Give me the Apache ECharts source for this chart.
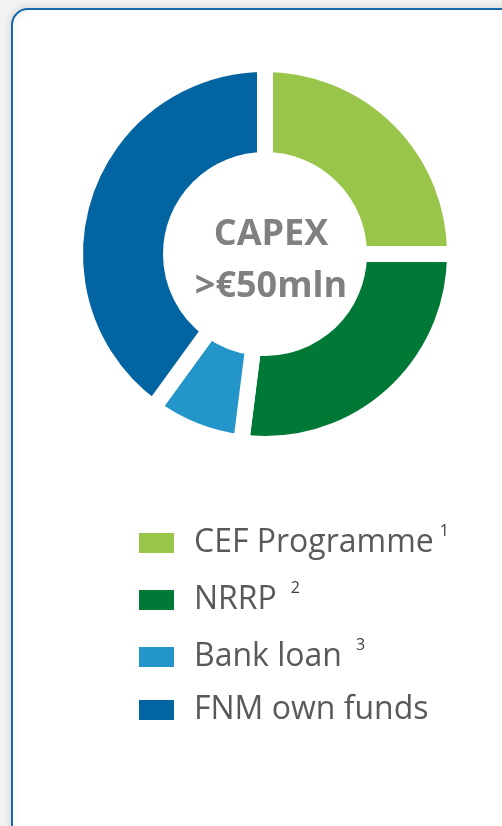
<!DOCTYPE html>
<html>
<head>
<meta charset="utf-8">
<script src="https://cdn.jsdelivr.net/npm/echarts@6/dist/echarts.min.js"></script>
<style>
  html, body { margin: 0; padding: 0; background: #f2f2f2; }
  #main { width: 502px; height: 826px; }
</style>
</head>
<body>
<div id="main"></div>
<script>
var names = ['CEF Programme', 'NRRP', 'Bank loan', 'FNM own funds'];
var shares = [25, 27, 8, 40];
var notes = ['1', '2', '3', ''];
var colors = ['#99c54b', '#007836', '#2395c9', '#0265a2'];
var centerText = ['CAPEX', '>€50mln'];

var chart = echarts.init(document.getElementById('main'));

var data = names.map(function (n, i) {
    return { name: n, value: shares[i], itemStyle: { color: colors[i] } };
});

var option = {
    backgroundColor: '#f2f2f2',
    animation: false,
    graphic: [{
        type: 'rect',
        z: -10,
        shape: { x: 12, y: 9, width: 520, height: 840, r: 16 },
        style: { fill: '#ffffff', stroke: '#1a68aa', lineWidth: 2,
                 shadowBlur: 8, shadowColor: 'rgba(0,0,0,0.12)' }
    }],
    title: {
        text: centerText.join('\n'),
        left: 266,
        top: 204,
        textAlign: 'center',
        textStyle: {
            fontFamily: 'Open Sans',
            fontWeight: 'bold',
            fontSize: 36,
            lineHeight: 52,
            color: '#808080'
        }
    },
    legend: {
        orient: 'vertical',
        left: 132,
        top: 518,
        icon: 'rect',
        itemWidth: 37,
        itemHeight: 22,
        itemGap: 21,
        selectedMode: false,
        data: names,
        formatter: function (name) {
            var i = names.indexOf(name);
            if (!notes[i]) return '{n|' + name + '}';
            return '{n|' + name + '}{' + (i === 0 ? 'a' : 's') + '|' + notes[i] + '}';
        },
        textStyle: {
            rich: {
                n: { fontFamily: 'Open Sans', fontSize: 32, color: '#595959', lineHeight: 40, padding: [0, 0, 0, 14] },
                a: { fontFamily: 'Open Sans', fontSize: 16, color: '#404040', lineHeight: 16, verticalAlign: 'top', padding: [0, 0, 8, 6] },
                s: { fontFamily: 'Open Sans', fontSize: 16, color: '#404040', lineHeight: 16, verticalAlign: 'top', padding: [0, 0, 2, 14] }
            }
        }
    },
    series: [{
        type: 'pie',
        center: [265, 254],
        radius: [94, 190],
        startAngle: 90,
        clockwise: true,
        label: { show: false },
        labelLine: { show: false },
        emphasis: { disabled: true },
        itemStyle: { borderColor: '#ffffff', borderWidth: 16, borderJoin: 'miter' },
        data: data
    }]
};

chart.setOption(option);
</script>
</body>
</html>
